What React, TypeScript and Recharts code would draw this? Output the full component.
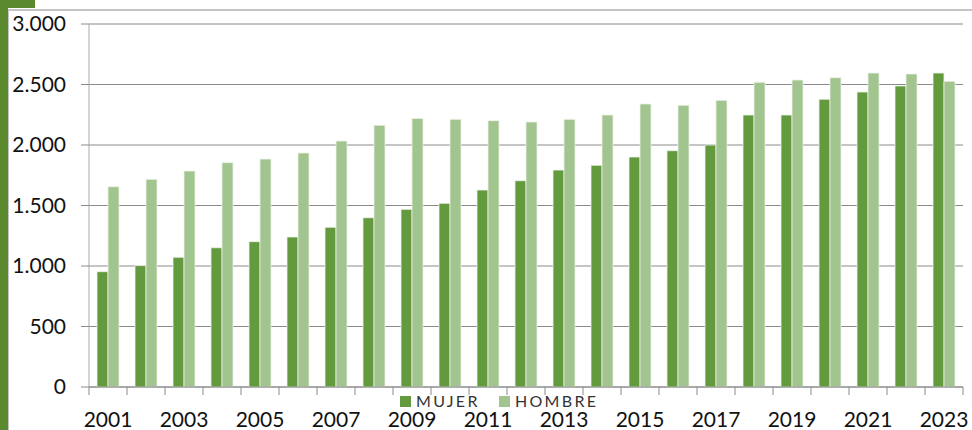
import { BarChart, Bar, XAxis, YAxis, CartesianGrid } from "recharts";

const YEARS = [
  "2001", "2002", "2003", "2004", "2005", "2006", "2007", "2008", "2009", "2010", "2011", "2012",
  "2013", "2014", "2015", "2016", "2017", "2018", "2019", "2020", "2021", "2022", "2023",
];
const MUJER = [
  953, 1003, 1072, 1151, 1201, 1240, 1320, 1399, 1468, 1518, 1628, 1705,
  1793, 1832, 1901, 1953, 2000, 2248, 2248, 2378, 2438, 2488, 2595,
];
const HOMBRE = [
  1655, 1716, 1785, 1854, 1884, 1934, 2033, 2163, 2220, 2212, 2201, 2190,
  2212, 2248, 2339, 2328, 2369, 2518, 2537, 2556, 2595, 2587, 2526,
];
const Y_TICKS = [0, 500, 1000, 1500, 2000, 2500, 3000];

const DARK = "#639a3e";
const LIGHT = "#a2c48f";
const GRID = "#8a8a8a";
const FONT = "Lato, 'Open Sans', sans-serif";

const data = YEARS.map((year, i) => ({ year, MUJER: MUJER[i], HOMBRE: HOMBRE[i] }));

const fmt = (v: number) => v.toLocaleString("de-DE");

// category ticks sit between the bars, labels only every other year
function YearTick(props: any) {
  const { x, y, payload, index } = props;
  const half = payload?.offset || 19;
  const i = payload?.index ?? index;
  return (
    <g>
      <line x1={x - half} x2={x - half} y1={y - 8} y2={y} stroke={GRID} />
      {i === YEARS.length - 1 && (
        <line x1={x + half} x2={x + half} y1={y - 8} y2={y} stroke={GRID} />
      )}
      {i % 2 === 0 && (
        <text x={x} y={y + 32} textAnchor="middle" fill="#111" fontSize={21} fontFamily={FONT}>
          {payload.value}
        </text>
      )}
    </g>
  );
}

// legend drawn outside the chart so it doesn't eat into the plot area
function LegendBox() {
  const item = (color: string, label: string, w: number) => (
    <div style={{ display: "flex", alignItems: "center", width: w }}>
      <span style={{ width: 11, height: 11, background: color, marginRight: 5 }} />
      <span style={{ fontSize: 16, letterSpacing: 2.3, color: "#333", fontFamily: FONT, lineHeight: "16px" }}>
        {label}
      </span>
    </div>
  );
  return (
    <div style={{ position: "absolute", left: 400, top: 393, display: "flex" }}>
      {item(DARK, "MUJER", 99)}
      {item(LIGHT, "HOMBRE", 110)}
    </div>
  );
}

export default function App() {
  return (
    <div style={{ position: "absolute", left: 0, top: 0, width: 972, height: 430, background: "#fff" }}>
      <div style={{ position: "absolute", left: 0, top: 0, width: 35, height: 8, background: "#5b8a2e" }} />
      <div style={{ position: "absolute", left: 0, top: 0, width: 8, height: 430, background: "#5b8a2e" }} />
      <div style={{ position: "absolute", left: 8, top: 9, width: 964, height: 2, background: "#c4c4c4" }} />
      <div style={{ position: "absolute", left: 8, top: 9, width: 1, height: 421, background: "#c4c4c4" }} />
      <BarChart
        width={972}
        height={430}
        data={data}
        margin={{ top: 24, right: 9, bottom: 13, left: 0 }}
        barGap={0}
        style={{ position: "absolute", left: 0, top: 0 }}
      >
        <CartesianGrid vertical={false} stroke={GRID} />
        <XAxis
          dataKey="year"
          height={30}
          interval={0}
          tickSize={8}
          tickMargin={0}
          tickLine={false}
          axisLine={{ stroke: GRID }}
          tick={<YearTick />}
        />
        <YAxis
          width={89}
          domain={[0, 3000]}
          ticks={Y_TICKS}
          tickFormatter={fmt}
          tickSize={8}
          tickMargin={15}
          axisLine={{ stroke: "#aaaaaa" }}
          tickLine={{ stroke: GRID }}
          tick={{ fill: "#111", fontSize: 21, fontFamily: FONT }}
        />
        <Bar dataKey="MUJER" fill={DARK} stroke="#eef3ea" strokeWidth={0.8} barSize={11} isAnimationActive={false} />
        <Bar dataKey="HOMBRE" fill={LIGHT} stroke="#eef3ea" strokeWidth={0.8} barSize={11} isAnimationActive={false} />
      </BarChart>
      <LegendBox />
    </div>
  );
}
